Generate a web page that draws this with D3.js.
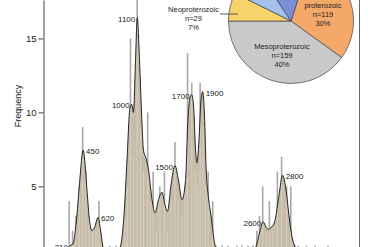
<!DOCTYPE html>
<html><head><meta charset="utf-8">
<script src="https://cdn.jsdelivr.net/npm/d3@7"></script>
<style>
html,body{margin:0;padding:0;background:#fff;overflow:hidden;}
svg{display:block;font-family:"Liberation Sans",Arial,sans-serif;}
</style></head>
<body>
<svg id="c" width="370" height="247"></svg>
<script>
// Histogram bins (age Ma, count)
const binAges = [300,340,380,420,460,500,535,578,620,655,690,785,860,930,965,995,1030,1066,1110,1150,1185,1235,1270,1300,1340,1380,1435,1470,1515,1560,1600,1645,1680,1710,1760,1800,1830,1860,1895,1925,1955,2010,2050,2120,2192,2300,2359,2430,2490,2535,2567,2605,2645,2685,2728,2780,2830,2890,2940,2990,3026,3129,3228,3383];
const binCounts = [4,2,3,5,9,6,3,2,2,4,1,1,1,1,3,5,15,7,18,9,6,10,4,6,2,5,6,2,4,8,4,3,5,14,12,6,5,12,9,5,6,4,1,1,1,1,1,1,1,2,3,5,2,4,2,6,7,5,5,1,1,1,1,1];
// Probability density curve (age Ma, frequency)
const densAges = [0,71,191,262,310,345,381,417,441,465,488,512,542,572,607,643,667,703,738,810,881,917,953,989,1024,1045,1066,1090,1111,1138,1161,1185,1215,1245,1287,1322,1364,1406,1441,1471,1513,1560,1602,1644,1686,1715,1739,1759,1781,1805,1822,1846,1870,1890,1912,1930,1960,1989,2025,2061,2120,2275,2394,2478,2525,2567,2612,2644,2672,2710,2752,2799,2843,2883,2918,2954,2990,3026,3109,3228,3407,3800];
const densFreq = [0,0.1,0.3,0.7,1.0,1.1,2.4,4.75,6.4,7.45,6.6,4.75,2.7,2.0,2.3,2.9,2.3,0.9,0.5,0.4,0.55,1.1,3.05,6.8,10.3,10.55,10.0,13.5,16.4,13.5,10.1,7.45,6.9,6.1,4.1,3.2,4.1,4.6,3.75,3.3,5.1,6.4,5.4,4.1,5.4,9.5,11.0,11.2,10.5,7.45,6.6,8.1,10.8,11.4,9.8,6.4,4.2,3.05,1.4,0.55,0.2,0.2,0.3,0.5,0.9,1.85,2.6,2.25,2.1,2.25,2.7,4.4,5.75,4.75,3.05,1.6,0.9,0.4,0.15,0.1,0.02,0];
// Peak labels
const peakText = ["310","450","620","1000","1100","1500","1700","1900","2600","2800"];
const peakAge  = [310,465,643,1045,1111,1560,1759,1890,2612,2843];
const peakFreq = [1.0,7.45,2.9,10.55,16.4,6.4,11.2,11.4,2.6,5.75];
const peakSide = ["end","start","start","end","end","end","end","start","end","start"];
// Y ticks
const yTicks = [5,10,15];
// Pie
const pieNames  = ["Paleoproterozoic","Mesoproterozoic","Neoproterozoic","Phanerozoic","Archean"];
const pieCounts = [119,159,29,33,57];
const pieColors = ["#f4a86a","#c9c9c9","#f7d36a","#a3c0ee","#7b8fd6"];

const svg = d3.select("#c");
const x = d3.scaleLinear().domain([0,3800]).range([44,363]);
const y = d3.scaleLinear().domain([0,17.6]).range([260.3,0]);

const dens = densAges.map((a,i)=>({a, f:densFreq[i]}));
const area = d3.area().x(d=>x(d.a)).y0(y(0)).y1(d=>y(d.f)).curve(d3.curveMonotoneX);
const line = d3.line().x(d=>x(d.a)).y(d=>y(d.f)).curve(d3.curveMonotoneX);

const bins = binAges.map((a,i)=>({a, c:binCounts[i]}));
const bw = 1.6;
// gray bars
svg.append("g").selectAll("rect").data(bins).join("rect")
  .attr("x",d=>x(d.a)-bw/2).attr("width",bw)
  .attr("y",d=>y(d.c)).attr("height",d=>y(0)-y(d.c))
  .attr("fill","#a8a8a8");
// density fill
svg.append("defs").append("clipPath").attr("id","ac").append("path").attr("d",area(dens));
svg.append("path").attr("d",area(dens)).attr("fill","#c6bca9");
// light bars inside density
svg.append("g").attr("clip-path","url(#ac)").selectAll("rect").data(bins).join("rect")
  .attr("x",d=>x(d.a)-bw/2+0.2).attr("width",bw-0.4)
  .attr("y",d=>y(d.c)).attr("height",d=>y(0)-y(d.c))
  .attr("fill","#e4ded2").attr("opacity",0.5);
svg.append("path").attr("d",line(dens)).attr("fill","none").attr("stroke","#222").attr("stroke-width",1);

// Y axis
const ax = svg.append("g").attr("transform","translate(43.5,0)")
  .call(d3.axisLeft(y).tickValues(yTicks).tickSize(5).tickSizeOuter(0).tickPadding(2));
ax.select(".domain").attr("stroke","#444");
ax.selectAll(".tick line").attr("stroke","#444");
ax.selectAll(".tick text").attr("font-size",9.5).attr("fill","#222").attr("font-family","Liberation Sans,Arial,sans-serif");
svg.append("text").attr("transform","translate(21,106) rotate(-90)")
  .attr("text-anchor","middle").attr("font-size",9).attr("fill","#222").text("Frequency");

// Right frame line
svg.append("line").attr("x1",359.5).attr("x2",359.5).attr("y1",0).attr("y2",247).attr("stroke","#666").attr("stroke-width",1);

// Peak labels
svg.append("g").selectAll("text").data(peakText).join("text")
  .attr("x",(d,i)=>x(peakAge[i]) + (peakSide[i]==="end"?-2:3))
  .attr("y",(d,i)=>y(peakFreq[i])+4)
  .attr("text-anchor",(d,i)=>peakSide[i])
  .attr("font-size",8).attr("fill","#222").text(d=>d);

// Pie
const cx = 291, cy = 21, r = 62.5;
const tot = d3.sum(pieCounts);
const start = 17.9*Math.PI/180;
const pie = d3.pie().sort(null).startAngle(start).endAngle(start+2*Math.PI);
const arcs = pie(pieCounts);
const arc = d3.arc().innerRadius(0).outerRadius(r);
const pg = svg.append("g").attr("transform",`translate(${cx},${cy})`);
pg.selectAll("path").data(arcs).join("path").attr("d",arc)
  .attr("fill",(d,i)=>pieColors[i]).attr("stroke","#444").attr("stroke-width",0.7);

function pieLabel(lines, tx, ty){
  const t = svg.append("text").attr("text-anchor","middle").attr("font-size",7.5).attr("fill","#222");
  lines.forEach((s,i)=>t.append("tspan").attr("x",tx).attr("y",ty+i*9).text(s));
}
const pct = c => Math.round(c/tot*100)+"%";
pieLabel(["Paleo-", "proterozoic", "n="+pieCounts[0], pct(pieCounts[0])], 323, -1);
pieLabel([pieNames[1], "n="+pieCounts[1], pct(pieCounts[1])], 282, 49);
pieLabel([pieNames[2], "n="+pieCounts[2], pct(pieCounts[2])], 193.5, 12);
svg.append("line").attr("x1",220).attr("x2",238).attr("y1",14).attr("y2",14).attr("stroke","#333").attr("stroke-width",0.8);
</script>
</body></html>
